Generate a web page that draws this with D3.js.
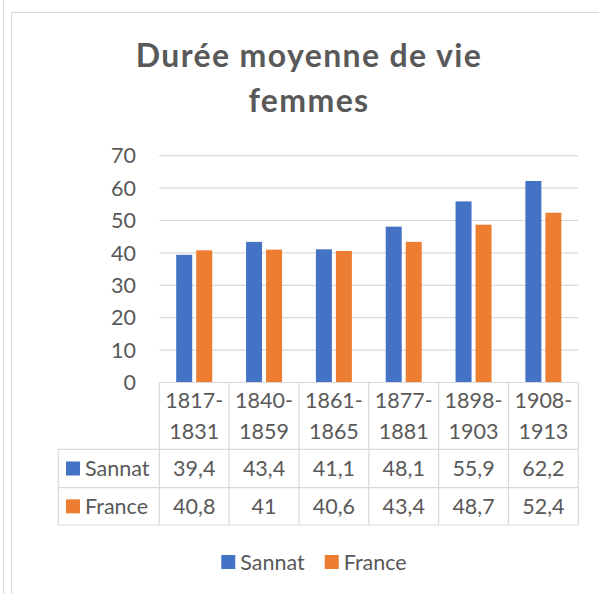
<!DOCTYPE html>
<html>
<head>
<meta charset="utf-8">
<script src="https://cdn.jsdelivr.net/npm/d3@7"></script>
<style>
  body { margin: 0; background: #fff; }
  text { font-family: Lato, 'Open Sans', sans-serif; fill: #595959; }
</style>
</head>
<body>
<div id="chart"></div>
<script>
const title = ['Durée moyenne de vie', 'femmes']
const categories = ['1817-1831', '1840-1859', '1861-1865', '1877-1881', '1898-1903', '1908-1913']
const seriesNames = ['Sannat', 'France']
const sannat = [39.4, 43.4, 41.1, 48.1, 55.9, 62.2]
const france = [40.8, 41, 40.6, 43.4, 48.7, 52.4]
const yTicks = [0, 10, 20, 30, 40, 50, 60, 70]
const colors = ['#4472C4', '#ED7D31']

const series = [sannat, france]
const w = 599
const h = 594
const plot = { left: 159.3, right: 578.3, top: 155.7, bottom: 382.5 }
const rows = { header: 449.3, r1: 487.7, r2: 525, left: 58.3 }
const grid = '#d9d9d9'
const fmt = v => String(v).replace('.', ',')

const svg = d3.select('#chart').append('svg')
  .attr('width', w)
  .attr('height', h)

svg.append('rect').attr('width', w).attr('height', h).attr('fill', '#fff')
svg.append('line')
  .attr('x1', 3.5).attr('x2', 3.5).attr('y1', 0).attr('y2', h)
  .attr('stroke', grid)
svg.append('rect')
  .attr('x', 11.5).attr('y', 12.5).attr('width', 700).attr('height', 700)
  .attr('fill', 'none').attr('stroke', grid)

const titles = svg.selectAll('.title')
  .data(title)
  .enter().append('text')
  .attr('class', 'title')
  .attr('x', 309)
  .attr('y', (d, i) => 67.3 + i * 44.4)
  .attr('text-anchor', 'middle')
  .style('font-size', '32px')
  .style('font-weight', 'bold')
  .text(d => d)
// widen the title a little to match the original width
const tw = titles.node().getComputedTextLength()
const ls = Math.max(0, (345 - tw) / (title[0].length - 1))
titles.style('letter-spacing', ls + 'px')

const x = d3.scaleBand().domain(categories).range([plot.left, plot.right])
const bw = x.bandwidth()
const x1 = d3.scaleBand().domain(seriesNames).range([bw / 2 - 18, bw / 2 + 18]).paddingInner(0.2)
const y = d3.scaleLinear().domain([0, 70]).range([plot.bottom, plot.top])

const g = svg.append('g')

g.selectAll('.grid')
  .data(yTicks.slice(1))
  .enter().append('line')
  .attr('class', 'grid')
  .attr('x1', plot.left).attr('x2', plot.right)
  .attr('y1', d => y(d)).attr('y2', d => y(d))
  .attr('stroke', grid).attr('stroke-width', 1.2)

g.selectAll('.tick')
  .data(yTicks)
  .enter().append('text')
  .attr('class', 'tick')
  .attr('x', 136)
  .attr('y', d => y(d))
  .attr('dy', '0.36em')
  .attr('text-anchor', 'end')
  .style('font-size', '21.5px')
  .text(d => d)

seriesNames.forEach((name, s) => {
  g.selectAll('.bar-' + s)
    .data(series[s])
    .enter().append('rect')
    .attr('class', 'bar-' + s)
    .attr('x', (d, i) => x(categories[i]) + x1(name))
    .attr('y', d => y(d))
    .attr('width', x1.bandwidth())
    .attr('height', d => y(0) - y(d))
    .attr('fill', colors[s])
})

// data table under the axis
const t = svg.append('g')
const hline = (yy, x0) => t.append('line')
  .attr('x1', x0).attr('x2', plot.right).attr('y1', yy).attr('y2', yy)
  .attr('stroke', grid).attr('stroke-width', 1.2)
hline(plot.bottom, plot.left)
hline(rows.header, rows.left)
hline(rows.r1, rows.left)
hline(rows.r2, rows.left)

const seps = categories.map(c => x(c)).concat([plot.right])
t.selectAll('.vsep')
  .data(seps)
  .enter().append('line')
  .attr('x1', d => d).attr('x2', d => d)
  .attr('y1', plot.bottom).attr('y2', rows.r2)
  .attr('stroke', grid).attr('stroke-width', 1.2)
t.append('line')
  .attr('x1', rows.left).attr('x2', rows.left)
  .attr('y1', rows.header).attr('y2', rows.r2)
  .attr('stroke', grid).attr('stroke-width', 1.2)

categories.forEach(c => {
  const parts = [c.split('-')[0] + '-', c.split('-')[1]]
  t.selectAll(null)
    .data(parts)
    .enter().append('text')
    .attr('x', x(c) + bw / 2)
    .attr('y', (d, i) => 408.4 + i * 30.5)
    .attr('text-anchor', 'middle')
    .style('font-size', '21.5px')
    .text(d => d)
})

const rowMid = [(rows.header + rows.r1) / 2, (rows.r1 + rows.r2) / 2]
seriesNames.forEach((name, s) => {
  t.append('rect')
    .attr('x', 66).attr('y', rowMid[s] - 7)
    .attr('width', 14).attr('height', 14)
    .attr('fill', colors[s])
  t.append('text')
    .attr('x', 85).attr('y', rowMid[s])
    .attr('dy', '0.36em')
    .style('font-size', '21.5px')
    .text(name)
  t.selectAll(null)
    .data(series[s])
    .enter().append('text')
    .attr('x', (d, i) => x(categories[i]) + bw / 2)
    .attr('y', rowMid[s])
    .attr('dy', '0.36em')
    .attr('text-anchor', 'middle')
    .style('font-size', '21.5px')
    .text(d => fmt(d))
})

// legend
const legend = svg.append('g')
const items = legend.selectAll('.item')
  .data(seriesNames)
  .enter().append('g')
  .attr('class', 'item')
items.append('rect')
  .attr('y', 555).attr('width', 14).attr('height', 14)
  .attr('fill', (d, i) => colors[i])
items.append('text')
  .attr('x', 19).attr('y', 562)
  .attr('dy', '0.36em')
  .style('font-size', '21.5px')
  .text(d => d)
let lx = 0
const offs = []
items.each(function () {
  offs.push(lx)
  lx += 19 + this.querySelector('text').getComputedTextLength() + 20
})
lx -= 20
const start = 314 - lx / 2
items.attr('transform', (d, i) => 'translate(' + (start + offs[i]) + ',0)')
</script>
</body>
</html>
